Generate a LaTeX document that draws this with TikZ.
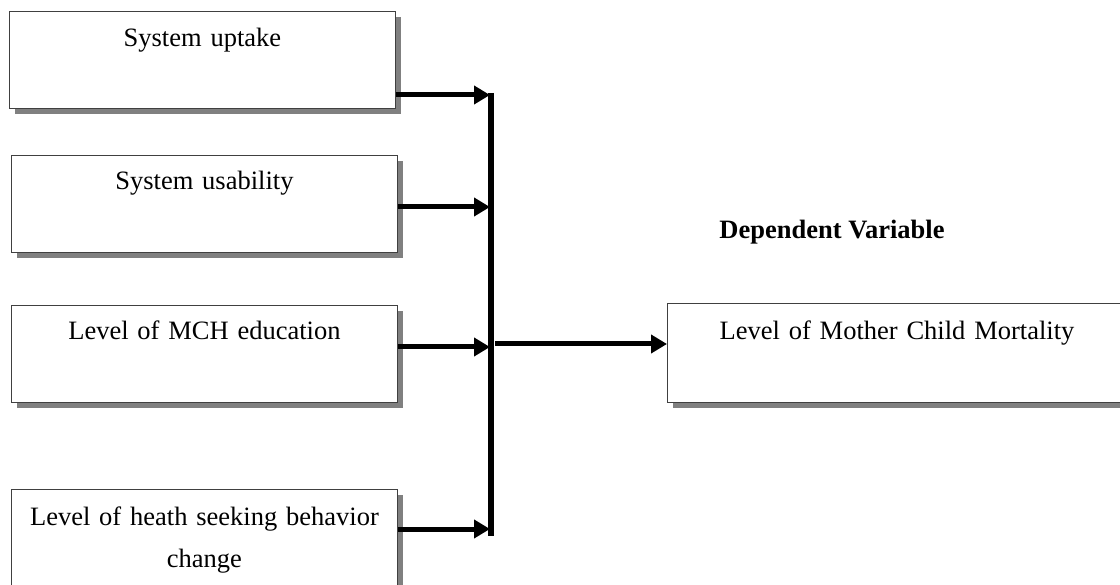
\documentclass[tikz,border=0pt]{standalone}
\usepackage{fontspec}
\setmainfont{Liberation Serif}
\usetikzlibrary{shadows,arrows.meta}
\begin{document}
\begin{tikzpicture}[x=1pt,y=-1pt,
  varbox/.style={draw=black!75,line width=0.9pt,fill=white,rectangle,anchor=north west,
    inner sep=0pt,minimum width=386pt,minimum height=97pt,
    drop shadow={shadow xshift=6pt,shadow yshift=-6pt,fill=black!50,opacity=1}},
  boxtext/.style={anchor=base,inner sep=0pt,text width=380pt,align=center,
    font=\fontsize{26.5}{43}\selectfont},
  heading/.style={anchor=base,inner sep=0pt,font=\fontsize{26.5}{32}\selectfont\bfseries},
  link/.style={line width=5pt,-{Triangle[length=16pt,width=18pt]}},
  busbar/.style={line width=6pt}]
\useasboundingbox (0,0) rectangle (1120,585);
\begin{scope}
\clip (0,0) rectangle (1120,585);
% independent variables
\node[varbox] (b1) at (9,11) {};
\node[varbox] (b2) at (11,155) {};
\node[varbox] (b3) at (11,305) {};
\node[varbox] (b4) at (11,489) {};
% dependent variable
\node[varbox,minimum width=470pt,minimum height=99pt] (dv) at (667,303) {};
\end{scope}
\node[boxtext] (t1) at ([yshift=-36pt]b1.north) {System uptake};
\node[boxtext] (t2) at ([yshift=-35pt]b2.north) {System usability};
\node[boxtext] (t3) at ([yshift=-35pt]b3.north) {Level of MCH education};
\node[boxtext] (t4) at ([yshift=-36pt]b4.north) {Level of heath seeking behavior\\change};
\node[boxtext,text width=440pt] (tdv) at (897,340) {Level of Mother Child Mortality};
\node[heading] (hd) at (832,239) {Dependent Variable};
% collecting bar
\coordinate (bartop) at (490.5,93);
\coordinate (barbot) at (490.5,536);
\coordinate (j1) at (490,95);
\coordinate (j2) at (490,207);
\coordinate (j3) at (490,347);
\coordinate (j4) at (490,529);
\coordinate (jout) at (495,344);
\draw[busbar] (bartop) -- (barbot);
\draw[link] (b1.east |- j1) -- (j1);
\draw[link] (b2.east |- j2) -- (j2);
\draw[link] (b3.east |- j3) -- (j3);
\draw[link] (b4.east |- j4) -- (j4);
\draw[link] (jout) -- (dv.west |- jout);
\end{tikzpicture}
\end{document}
